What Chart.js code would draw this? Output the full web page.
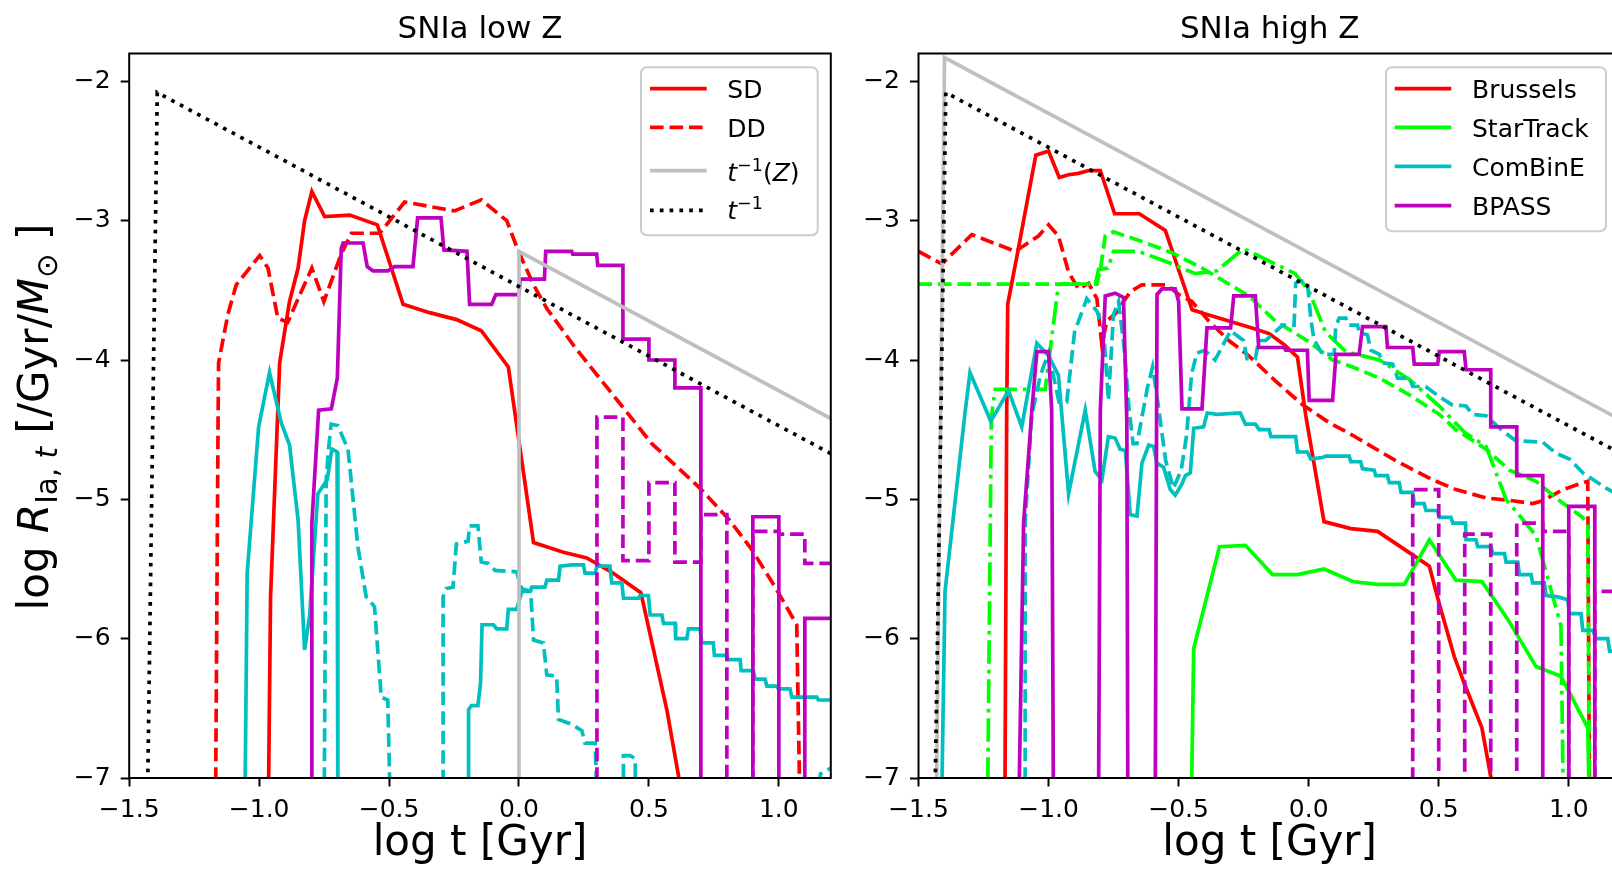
<!DOCTYPE html>
<html>
<head>
<meta charset="utf-8">
<script src="https://cdn.jsdelivr.net/npm/chart.js@4.4.0/dist/chart.umd.min.js"></script>
<style>
html, body { margin: 0; padding: 0; background: #fff; overflow: hidden; width: 1612px; height: 875px; }
canvas { position: absolute; top: 0; }
</style>
</head>
<body>
<canvas id="lowZ" width="835" height="875" style="left:0"></canvas>
<canvas id="highZ" width="800" height="875" style="left:835px"></canvas>
<script>
// tick values
const xTicks = [-1.5, -1.0, -0.5, 0.0, 0.5, 1.0];
const yTicks = [-7, -6, -5, -4, -3, -2];

// ---- SNIa low Z : [log t, log R] ----
const lowSD = [[-0.965,-7.3],[-0.956,-5.70],[-0.921,-4.02],[-0.883,-3.58],[-0.85,-3.34],[-0.825,-3.0],[-0.797,-2.79],[-0.748,-2.97],[-0.651,-2.96],[-0.545,-3.03],[-0.446,-3.60],[-0.344,-3.66],[-0.24,-3.71],[-0.145,-3.79],[-0.041,-4.05],[0.056,-5.31],[0.171,-5.38],[0.261,-5.42],[0.363,-5.53],[0.469,-5.67],[0.569,-6.51],[0.625,-7.1]];
const lowDD = [[-1.168,-7.3],[-1.158,-4.44],[-1.156,-4.02],[-1.12,-3.67],[-1.088,-3.46],[-0.998,-3.25],[-0.966,-3.34],[-0.928,-3.70],[-0.89,-3.73],[-0.838,-3.51],[-0.797,-3.34],[-0.751,-3.58],[-0.684,-3.24],[-0.645,-3.09],[-0.536,-3.09],[-0.44,-2.866],[-0.248,-2.93],[-0.145,-2.85],[-0.047,-3.0],[-0.002,-3.22],[0.056,-3.46],[0.107,-3.63],[0.216,-3.91],[0.396,-4.33],[0.511,-4.60],[0.691,-4.91],[0.806,-5.14],[0.896,-5.36],[0.986,-5.63],[1.069,-5.90],[1.082,-7.3]];
const lowCBsolid = [[-1.055,-7.3],[-1.046,-5.53],[-1.002,-4.48],[-0.96,-4.09],[-0.915,-4.45],[-0.883,-4.61],[-0.85,-5.15],[-0.825,-6.08],[-0.806,-5.84],[-0.774,-4.96],[-0.738,-4.86],[-0.72,-4.64],[-0.70,-4.66],[-0.697,-7.3],[-0.196,-7.3],[-0.194,-6.51],[-0.183,-6.48],[-0.158,-6.48],[-0.148,-6.32],[-0.142,-5.90],[-0.098,-5.90],[-0.086,-5.93],[-0.047,-5.93],[-0.041,-5.79],[-0.009,-5.79],[0.011,-5.66],[0.043,-5.66],[0.049,-5.63],[0.10,-5.63],[0.107,-5.58],[0.152,-5.58],[0.158,-5.48],[0.203,-5.47],[0.248,-5.47],[0.254,-5.53],[0.293,-5.53],[0.30,-5.48],[0.35,-5.48],[0.357,-5.60],[0.396,-5.60],[0.402,-5.71],[0.46,-5.71],[0.466,-5.69],[0.498,-5.69],[0.505,-5.83],[0.55,-5.83],[0.556,-5.89],[0.601,-5.89],[0.603,-6.0],[0.646,-6.0],[0.652,-5.93],[0.697,-5.93],[0.703,-6.03],[0.748,-6.03],[0.752,-6.12],[0.80,-6.12],[0.804,-6.15],[0.851,-6.15],[0.855,-6.23],[0.902,-6.23],[0.909,-6.29],[0.947,-6.29],[0.954,-6.34],[0.992,-6.34],[0.998,-6.36],[1.043,-6.36],[1.05,-6.42],[1.146,-6.42],[1.152,-6.44],[1.2,-6.44]];
const lowCBdash = [[-0.75,-7.3],[-0.742,-4.86],[-0.733,-4.64],[-0.723,-4.46],[-0.697,-4.47],[-0.658,-4.64],[-0.62,-5.34],[-0.588,-5.70],[-0.556,-5.77],[-0.53,-6.42],[-0.505,-6.44],[-0.494,-7.3],[-0.292,-7.3],[-0.292,-5.70],[-0.28,-5.64],[-0.254,-5.63],[-0.241,-5.32],[-0.196,-5.30],[-0.19,-5.19],[-0.158,-5.19],[-0.145,-5.45],[-0.118,-5.46],[-0.092,-5.51],[-0.009,-5.52],[0.01,-5.64],[0.045,-5.66],[0.056,-6.01],[0.094,-6.03],[0.107,-6.26],[0.145,-6.27],[0.152,-6.58],[0.197,-6.61],[0.242,-6.66],[0.254,-6.75],[0.293,-6.75],[0.303,-7.3],[0.402,-7.3],[0.402,-6.84],[0.428,-6.84],[0.447,-6.86],[0.45,-7.3],[1.15,-7.3],[1.16,-6.97],[1.2,-6.93]];
const lowBPsolid = [[-0.80,-7.3],[-0.797,-5.17],[-0.771,-4.36],[-0.722,-4.35],[-0.699,-4.13],[-0.684,-3.20],[-0.677,-3.16],[-0.60,-3.16],[-0.584,-3.33],[-0.562,-3.36],[-0.505,-3.36],[-0.479,-3.33],[-0.408,-3.33],[-0.39,-2.98],[-0.30,-2.98],[-0.289,-3.21],[-0.20,-3.22],[-0.19,-3.60],[-0.105,-3.60],[-0.089,-3.53],[0.0,-3.53],[0.004,-3.42],[0.098,-3.42],[0.103,-3.22],[0.203,-3.22],[0.207,-3.24],[0.299,-3.24],[0.303,-3.32],[0.40,-3.32],[0.40,-3.85],[0.50,-3.85],[0.50,-4.0],[0.60,-4.0],[0.60,-4.20],[0.70,-4.20],[0.70,-7.3],[0.90,-7.3],[0.90,-5.125],[1.0,-5.125],[1.0,-7.3],[1.10,-7.3],[1.10,-5.855],[1.25,-5.855]];
const lowBPdash = [[0.30,-7.3],[0.30,-4.41],[0.40,-4.41],[0.40,-5.44],[0.50,-5.44],[0.50,-4.88],[0.60,-4.88],[0.60,-5.45],[0.70,-5.45],[0.70,-5.11],[0.80,-5.11],[0.80,-7.3],[0.90,-7.3],[0.90,-5.23],[1.0,-5.23],[1.0,-5.25],[1.10,-5.25],[1.10,-5.46],[1.25,-5.46]];
const lowTZ = [[0.0,-7.3],[0.0,-3.22],[1.2,-4.42]];
const lowTinv = [[-1.429,-7.1],[-1.392,-2.08],[1.2,-4.672]];

// ---- SNIa high Z ----
const hiBruSolid = [[-1.168,-7.3],[-1.161,-4.40],[-1.157,-3.60],[-1.116,-3.20],[-1.049,-2.53],[-1.0,-2.50],[-0.959,-2.69],[-0.923,-2.67],[-0.885,-2.66],[-0.846,-2.64],[-0.801,-2.64],[-0.746,-2.95],[-0.651,-2.95],[-0.551,-3.07],[-0.448,-3.64],[-0.397,-3.67],[-0.307,-3.72],[-0.218,-3.77],[-0.152,-3.81],[-0.094,-3.89],[-0.043,-3.98],[-0.011,-4.40],[0.059,-5.16],[0.162,-5.21],[0.265,-5.23],[0.361,-5.35],[0.464,-5.48],[0.502,-5.75],[0.56,-6.13],[0.598,-6.32],[0.666,-6.64],[0.701,-7.0],[0.71,-7.3]];
const hiBruDash = [[-1.5,-3.22],[-1.41,-3.31],[-1.295,-3.10],[-1.128,-3.22],[-1.039,-3.11],[-1.0,-3.03],[-0.962,-3.11],[-0.923,-3.37],[-0.885,-3.49],[-0.846,-3.45],[-0.814,-3.56],[-0.795,-3.89],[-0.776,-3.72],[-0.744,-3.67],[-0.686,-3.51],[-0.641,-3.46],[-0.545,-3.46],[-0.50,-3.53],[-0.449,-3.58],[-0.384,-3.72],[-0.307,-3.86],[-0.23,-3.97],[-0.128,-4.15],[-0.024,-4.32],[0.079,-4.45],[0.169,-4.54],[0.323,-4.71],[0.477,-4.86],[0.566,-4.93],[0.682,-4.99],[0.784,-5.01],[0.861,-5.03],[0.9,-5.01],[0.977,-4.93],[1.073,-4.87],[1.08,-7.3]];
const hiSTSolid = [[-0.452,-7.3],[-0.442,-6.07],[-0.343,-5.34],[-0.243,-5.33],[-0.139,-5.54],[-0.043,-5.54],[0.059,-5.50],[0.169,-5.59],[0.265,-5.61],[0.368,-5.61],[0.464,-5.29],[0.566,-5.58],[0.666,-5.59],[0.765,-5.86],[0.874,-6.20],[0.97,-6.27],[1.073,-6.64],[1.08,-7.3]];
const hiSTDash = [[-1.5,-3.455],[-0.814,-3.455],[-0.80,-3.34],[-0.782,-3.11],[-0.75,-3.08],[-0.641,-3.15],[-0.526,-3.23],[-0.41,-3.34],[-0.32,-3.44],[-0.23,-3.54],[-0.128,-3.72],[0.002,-3.87],[0.092,-4.0],[0.169,-4.05],[0.272,-4.13],[0.387,-4.25],[0.502,-4.39],[0.566,-4.50],[0.682,-4.64],[0.772,-4.79],[0.874,-4.87],[0.965,-5.01],[1.054,-5.13],[1.073,-5.19],[1.08,-7.3]];
const hiSTDashDot = [[-1.235,-7.3],[-1.22,-4.41],[-1.205,-4.21],[-1.013,-4.21],[-0.962,-3.46],[-0.943,-3.455],[-0.82,-3.455],[-0.808,-3.35],[-0.772,-3.34],[-0.75,-3.22],[-0.654,-3.22],[-0.539,-3.30],[-0.436,-3.38],[-0.353,-3.36],[-0.25,-3.20],[-0.052,-3.38],[0.0,-3.50],[0.065,-3.80],[0.143,-3.94],[0.272,-4.0],[0.387,-4.14],[0.502,-4.33],[0.60,-4.52],[0.682,-4.62],[0.759,-5.0],[0.874,-5.26],[0.97,-5.91],[0.98,-7.3]];
const hiCBSolid = [[-1.412,-7.3],[-1.398,-5.66],[-1.32,-4.36],[-1.302,-4.09],[-1.222,-4.44],[-1.154,-4.22],[-1.103,-4.48],[-1.045,-3.88],[-1.0,-3.97],[-0.962,-4.11],[-0.923,-4.96],[-0.859,-4.36],[-0.821,-4.80],[-0.795,-4.86],[-0.77,-4.55],[-0.744,-4.56],[-0.725,-4.64],[-0.705,-4.65],[-0.686,-5.11],[-0.66,-5.12],[-0.641,-4.74],[-0.615,-4.61],[-0.596,-4.62],[-0.584,-4.74],[-0.558,-4.77],[-0.532,-4.93],[-0.513,-4.97],[-0.487,-4.89],[-0.474,-4.83],[-0.455,-4.81],[-0.442,-4.49],[-0.404,-4.48],[-0.39,-4.38],[-0.352,-4.39],[-0.263,-4.38],[-0.243,-4.46],[-0.205,-4.46],[-0.19,-4.50],[-0.152,-4.50],[-0.145,-4.55],[-0.05,-4.55],[-0.043,-4.66],[-0.005,-4.66],[0.008,-4.71],[0.053,-4.70],[0.066,-4.69],[0.156,-4.69],[0.162,-4.73],[0.20,-4.73],[0.207,-4.78],[0.252,-4.79],[0.258,-4.83],[0.303,-4.83],[0.31,-4.88],[0.348,-4.88],[0.355,-4.95],[0.40,-4.95],[0.406,-5.03],[0.444,-5.03],[0.451,-5.08],[0.496,-5.08],[0.502,-5.13],[0.547,-5.13],[0.554,-5.17],[0.603,-5.17],[0.605,-5.29],[0.643,-5.29],[0.65,-5.34],[0.701,-5.34],[0.708,-5.39],[0.753,-5.39],[0.759,-5.45],[0.804,-5.45],[0.81,-5.54],[0.855,-5.54],[0.861,-5.60],[0.906,-5.60],[0.913,-5.69],[0.958,-5.70],[0.996,-5.72],[1.003,-5.82],[1.047,-5.82],[1.054,-5.94],[1.093,-5.94],[1.105,-6.0],[1.15,-6.0],[1.157,-6.09],[1.2,-6.09]];
const hiCBDash = [[-1.09,-7.3],[-1.09,-5.17],[-1.065,-4.40],[-1.03,-4.1],[-1.0,-3.95],[-0.96,-4.3],[-0.93,-4.3],[-0.90,-3.8],[-0.853,-3.56],[-0.814,-3.65],[-0.789,-3.77],[-0.77,-4.29],[-0.75,-3.67],[-0.731,-3.58],[-0.71,-3.9],[-0.69,-4.36],[-0.675,-4.60],[-0.66,-4.60],[-0.62,-4.2],[-0.60,-4.05],[-0.58,-4.3],[-0.55,-4.72],[-0.52,-4.92],[-0.49,-4.79],[-0.47,-4.55],[-0.45,-4.1],[-0.43,-3.95],[-0.40,-3.93],[-0.36,-4.0],[-0.30,-3.79],[-0.25,-3.86],[-0.237,-3.99],[-0.205,-3.99],[-0.192,-3.86],[-0.165,-3.86],[-0.1,-3.75],[-0.056,-3.75],[-0.05,-3.45],[-0.037,-3.43],[-0.005,-3.44],[0.008,-3.7],[0.02,-3.85],[0.053,-3.96],[0.098,-3.96],[0.104,-3.76],[0.117,-3.70],[0.143,-3.70],[0.156,-3.75],[0.188,-3.75],[0.194,-3.80],[0.226,-3.82],[0.239,-3.93],[0.272,-3.96],[0.284,-4.02],[0.323,-4.03],[0.342,-4.13],[0.387,-4.13],[0.40,-4.19],[0.45,-4.19],[0.50,-4.26],[0.55,-4.32],[0.605,-4.33],[0.63,-4.39],[0.682,-4.40],[0.74,-4.50],[0.797,-4.58],[0.90,-4.59],[0.951,-4.67],[1.003,-4.71],[1.054,-4.81],[1.144,-4.92],[1.2,-4.98]];
const hiBPSolid = [[-1.115,-7.3],[-1.096,-5.17],[-1.064,-4.36],[-1.045,-3.94],[-1.0,-3.94],[-0.988,-4.36],[-0.981,-7.3],[-0.808,-7.3],[-0.801,-4.36],[-0.782,-3.54],[-0.744,-3.52],[-0.712,-3.55],[-0.699,-4.45],[-0.695,-7.3],[-0.59,-7.3],[-0.583,-3.53],[-0.564,-3.49],[-0.513,-3.49],[-0.50,-3.58],[-0.487,-4.35],[-0.41,-4.35],[-0.391,-3.77],[-0.30,-3.77],[-0.288,-3.54],[-0.205,-3.54],[-0.192,-3.91],[-0.094,-3.91],[-0.088,-3.93],[-0.005,-3.93],[0.002,-4.29],[0.092,-4.29],[0.105,-3.96],[0.194,-3.96],[0.207,-3.76],[0.297,-3.76],[0.303,-3.91],[0.40,-3.91],[0.406,-4.03],[0.496,-4.03],[0.502,-3.94],[0.598,-3.94],[0.605,-4.07],[0.70,-4.07],[0.70,-4.48],[0.80,-4.48],[0.80,-4.83],[0.90,-4.83],[0.90,-7.3],[1.0,-7.3],[1.0,-5.05],[1.1,-5.05],[1.1,-7.3],[1.25,-7.3]];
const hiBPDash = [[0.40,-7.3],[0.40,-4.93],[0.50,-4.93],[0.50,-7.3],[0.60,-7.3],[0.60,-5.25],[0.70,-5.25],[0.70,-7.3],[0.80,-7.3],[0.80,-5.17],[0.90,-5.17],[0.90,-5.23],[1.0,-5.23],[1.0,-7.3],[1.1,-7.3],[1.1,-5.66],[1.25,-5.66]];
const hiTZ = [[-1.432,-7.3],[-1.40,-1.83],[1.2,-4.43]];
const hiTinv = [[-1.436,-7.1],[-1.395,-2.08],[1.2,-4.672]];

const FONT = '"DejaVu Sans"';
const RED = '#ff0000', GREEN = '#00ff00', CYAN = '#00bfbf', MAG = '#bf00bf', GRAY = '#bfbfbf', BLACK = '#000000';
const LW = 3.7;
const DASH = [13.6, 5.9], DOT = [3.7, 6.1], DASHDOT = [23.5, 5.9, 3.7, 5.9];

function ser(pts, color, dash) {
  return {
    data: pts.map(p => ({x: p[0], y: p[1]})),
    borderColor: color, borderWidth: LW, borderDash: dash || [],
    pointRadius: 0, showLine: true, fill: false, tension: 0, clip: 0
  };
}

const fmt = (v, d) => (v < 0 ? '\u2212' : '') + Math.abs(v).toFixed(d);

// draw a row of text pieces (normal / italic / sub / sup) from x at baseline y
function drawRuns(ctx, parts, x, y, measureOnly) {
  let cx = x;
  for (const p of parts) {
    ctx.font = (p.it ? 'italic ' : '') + p.s + 'px ' + FONT;
    if (!measureOnly) ctx.fillText(p.t, cx, y + (p.dy || 0));
    cx += ctx.measureText(p.t).width;
  }
  return cx - x;
}

function decor(cfg) {
  return {
    id: 'decor',
    afterDatasetsDraw(chart) {
      const ctx = chart.ctx, a = chart.chartArea;
      ctx.save();
      // frame
      ctx.strokeStyle = '#000';
      ctx.lineWidth = 2;
      ctx.strokeRect(a.left, a.top, a.right - a.left, a.bottom - a.top);

      ctx.fillStyle = '#000';
      ctx.textBaseline = 'alphabetic';
      ctx.textAlign = 'center';
      ctx.font = '31px ' + FONT;
      ctx.fillText(cfg.title, (a.left + a.right) / 2, 37.5);
      ctx.font = '42px ' + FONT;
      ctx.fillText('log t [Gyr]', (a.left + a.right) / 2, 855);

      if (cfg.ylabel) {
        ctx.textAlign = 'left';
        ctx.save();
        ctx.translate(48, 417);
        ctx.rotate(-Math.PI / 2);
        const w = drawRuns(ctx, cfg.ylabel, 0, 0, true);
        drawRuns(ctx, cfg.ylabel, -w / 2, 0);
        ctx.restore();
      }

      // legend
      const L = cfg.legend;
      ctx.beginPath();
      ctx.roundRect(L.x0, L.y0, L.x1 - L.x0, L.y1 - L.y0, 6);
      ctx.fillStyle = 'rgba(255,255,255,0.8)';
      ctx.fill();
      ctx.strokeStyle = '#cccccc';
      ctx.lineWidth = 2;
      ctx.stroke();
      ctx.textAlign = 'left';
      ctx.fillStyle = '#000';
      for (const it of L.items) {
        ctx.beginPath();
        ctx.setLineDash(it.dash || []);
        ctx.strokeStyle = it.color;
        ctx.lineWidth = LW;
        ctx.moveTo(L.lx0, it.y);
        ctx.lineTo(L.lx1, it.y);
        ctx.stroke();
        ctx.setLineDash([]);
        drawRuns(ctx, it.label, L.tx, it.base);
      }
      ctx.restore();
    }
  };
}

function makeChart(id, datasets, yWidth, padRight, cfg) {
  datasets.forEach((d, i) => { d.order = -i; });
  const tickFont = {family: 'DejaVu Sans', size: 25};
  const grid = {display: true, drawOnChartArea: false, drawTicks: true, tickLength: 8.5, tickWidth: 2, tickColor: '#000'};
  return new Chart(document.getElementById(id), {
    type: 'scatter',
    data: {datasets: datasets},
    options: {
      responsive: false,
      animation: false,
      events: [],
      layout: {padding: {top: 53.5, right: padRight, left: 0, bottom: 0}},
      plugins: {legend: {display: false}, tooltip: {enabled: false}, title: {display: false}},
      scales: {
        x: {
          type: 'linear', min: -1.5, max: 1.2,
          afterBuildTicks: s => { s.ticks = xTicks.map(v => ({value: v})); },
          afterFit: s => { s.height = 97; },
          grid: grid, border: {display: false},
          ticks: {autoSkip: false, maxRotation: 0, color: '#000', padding: 9, font: tickFont, callback: v => fmt(v, 1)}
        },
        y: {
          type: 'linear', min: -7, max: -1.8,
          afterBuildTicks: s => { s.ticks = yTicks.map(v => ({value: v})); },
          afterFit: s => { s.width = yWidth; },
          grid: grid, border: {display: false},
          ticks: {autoSkip: false, color: '#000', padding: 10, font: tickFont, callback: v => fmt(v, 0)}
        }
      }
    },
    plugins: [decor(cfg)]
  });
}

const S = 25, SS = 17.5;
makeChart('lowZ', [
  ser(lowSD, RED), ser(lowDD, RED, DASH),
  ser(lowCBsolid, CYAN), ser(lowCBdash, CYAN, DASH),
  ser(lowBPsolid, MAG), ser(lowBPdash, MAG, DASH),
  ser(lowTZ, GRAY), ser(lowTinv, BLACK, DOT)
], 129.2, 4.2, {
  title: 'SNIa low Z',
  ylabel: [
    {t: 'log ', s: 42}, {t: 'R', s: 42, it: 1}, {t: 'Ia, ', s: 29.4, dy: 9}, {t: 't', s: 29.4, it: 1, dy: 9},
    {t: ' [/Gyr/', s: 42}, {t: 'M', s: 42, it: 1}, {t: '\u2299', s: 29.4, dy: 9}, {t: ' ]', s: 42}
  ],
  legend: {
    x0: 641, y0: 67.3, x1: 817.7, y1: 235.3, lx0: 650, lx1: 706.7, tx: 727.3,
    items: [
      {color: RED, y: 88.7, base: 98, label: [{t: 'SD', s: S}]},
      {color: RED, dash: DASH, y: 127.3, base: 137, label: [{t: 'DD', s: S}]},
      {color: GRAY, y: 170.7, base: 180.5, label: [{t: 't', s: S, it: 1}, {t: '\u22121', s: SS, dy: -10}, {t: '(', s: S}, {t: 'Z', s: S, it: 1}, {t: ')', s: S}]},
      {color: BLACK, dash: DOT, y: 210.3, base: 219, label: [{t: 't', s: S, it: 1}, {t: '\u22121', s: SS, dy: -10}]}
    ]
  }
});

makeChart('highZ', [
  ser(hiBruSolid, RED), ser(hiBruDash, RED, DASH),
  ser(hiSTSolid, GREEN), ser(hiSTDash, GREEN, DASH), ser(hiSTDashDot, GREEN, DASHDOT),
  ser(hiCBSolid, CYAN), ser(hiCBDash, CYAN, DASH),
  ser(hiBPSolid, MAG), ser(hiBPDash, MAG, DASH),
  ser(hiTZ, GRAY), ser(hiTinv, BLACK, DOT)
], 83.5, 14.2, {
  title: 'SNIa high Z',
  legend: {
    x0: 551, y0: 67.3, x1: 771, y1: 231.3, lx0: 559.7, lx1: 616.3, tx: 637,
    items: [
      {color: RED, y: 88.7, base: 98, label: [{t: 'Brussels', s: S}]},
      {color: GREEN, y: 127.3, base: 137, label: [{t: 'StarTrack', s: S}]},
      {color: CYAN, y: 166.3, base: 176, label: [{t: 'ComBinE', s: S}]},
      {color: MAG, y: 205.7, base: 215, label: [{t: 'BPASS', s: S}]}
    ]
  }
});
</script>
</body>
</html>
